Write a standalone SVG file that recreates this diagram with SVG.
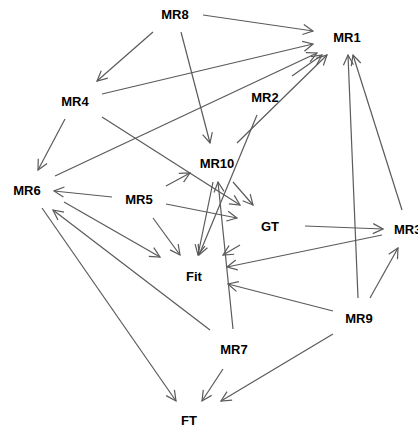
<svg xmlns="http://www.w3.org/2000/svg" width="418" height="428" viewBox="0 0 418 428">
<style>
.e{stroke:#5a5a5a;stroke-width:1.2;fill:none;marker-end:url(#a)}
.n text{font-family:"Liberation Sans",Arial,sans-serif;font-weight:bold;font-size:13px;fill:#000;text-anchor:middle}
</style>
<defs>
<marker id="a" viewBox="-11 -6 12 12" refX="0" refY="0" markerWidth="12" markerHeight="12" markerUnits="userSpaceOnUse" orient="auto">
<path d="M-10,-5 L0,0 L-10,5" fill="none" stroke="#5a5a5a" stroke-width="1.2"/>
</marker>
</defs>
<rect width="418" height="428" fill="#fff"/>
<g id="edges">
<line class="e" x1="203" y1="15" x2="313" y2="31"/>
<line class="e" x1="153" y1="32" x2="97" y2="81"/>
<line class="e" x1="181" y1="32" x2="210" y2="143"/>
<line class="e" x1="102" y1="94" x2="313" y2="44"/>
<line class="e" x1="65" y1="119" x2="38" y2="170"/>
<line class="e" x1="102" y1="117" x2="240" y2="205"/>
<line class="e" x1="55" y1="176" x2="317" y2="53"/>
<line class="e" x1="292" y1="76" x2="322" y2="55"/>
<line class="e" x1="237" y1="143" x2="327" y2="55"/>
<line class="e" x1="233" y1="182" x2="253" y2="205"/>
<line class="e" x1="257" y1="115" x2="199" y2="255"/>
<line class="e" x1="213" y1="182" x2="198" y2="255"/>
<line class="e" x1="233" y1="329" x2="218" y2="182"/>
<line class="e" x1="240" y1="245" x2="223" y2="255"/>
<line class="e" x1="382" y1="235" x2="227" y2="267"/>
<line class="e" x1="333" y1="311" x2="228" y2="284"/>
<line class="e" x1="358" y1="298" x2="348" y2="55"/>
<line class="e" x1="370" y1="298" x2="398" y2="248"/>
<line class="e" x1="402" y1="210" x2="353" y2="55"/>
<line class="e" x1="305" y1="226" x2="383" y2="229"/>
<line class="e" x1="333" y1="334" x2="221" y2="401"/>
<line class="e" x1="223" y1="369" x2="202" y2="401"/>
<line class="e" x1="210" y1="330" x2="53" y2="210"/>
<line class="e" x1="42" y1="208" x2="176" y2="401"/>
<line class="e" x1="64" y1="202" x2="160" y2="257"/>
<line class="e" x1="112" y1="197" x2="54" y2="191"/>
<line class="e" x1="166" y1="186" x2="190" y2="173"/>
<line class="e" x1="166" y1="204" x2="237" y2="218"/>
<line class="e" x1="153" y1="218" x2="180" y2="255"/>
</g>
<g class="n">
<g id="MR8"><text x="175" y="19">MR8</text></g>
<g id="MR1"><text x="347" y="42">MR1</text></g>
<g id="MR4"><text x="75" y="106">MR4</text></g>
<g id="MR2"><text x="265" y="102">MR2</text></g>
<g id="MR6"><text x="27" y="195">MR6</text></g>
<g id="MR5"><text x="139" y="204">MR5</text></g>
<g id="MR10"><text x="217" y="168">MR10</text></g>
<g id="GT"><text x="270" y="231">GT</text></g>
<g id="MR3"><text x="394" y="234" style="text-anchor:start">MR3</text></g>
<g id="Fit"><text x="194" y="281">Fit</text></g>
<g id="MR9"><text x="359" y="323">MR9</text></g>
<g id="MR7"><text x="234" y="354">MR7</text></g>
<g id="FT"><text x="189" y="425">FT</text></g>
</g>
</svg>
